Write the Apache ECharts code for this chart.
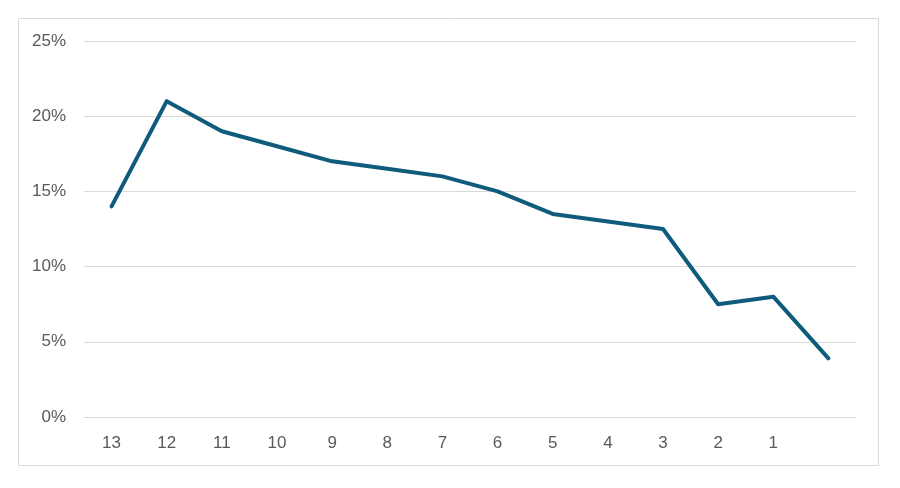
<!DOCTYPE html>
<html>
<head>
<meta charset="utf-8">
<script src="https://cdn.jsdelivr.net/npm/echarts@6/dist/echarts.min.js"></script>
<style>
  html, body { margin: 0; padding: 0; background: #fff; }
  #chart { width: 900px; height: 488px; }
</style>
</head>
<body>
<div id="chart"></div>
<script>
var categories = ['13', '12', '11', '10', '9', '8', '7', '6', '5', '4', '3', '2', '1', ''];
var values = [14, 21, 19, 18, 17, 16.5, 16, 15, 13.5, 13, 12.5, 7.5, 8, 3.9];
var yTicks = [0, 5, 10, 15, 20, 25];

var chart = echarts.init(document.getElementById('chart'));

// 绘制图形
var option = {
    animation: false,
    textStyle: {fontFamily: 'Liberation Sans, Arial, sans-serif'},
    graphic: [
        {
            type: 'rect',
            shape: {x: 18.5, y: 18.5, width: 860, height: 447},
            style: {fill: 'none', stroke: '#d9d9d9', lineWidth: 1}
        }
    ],
    grid: {left: 84, right: 44, top: 41, bottom: 71},
    xAxis: {
        type: 'category',
        data: categories,
        boundaryGap: true,
        axisLine: {lineStyle: {color: '#d9d9d9', width: 1}},
        axisTick: {show: false},
        axisLabel: {color: '#595959', fontSize: 17, margin: 18}
    },
    yAxis: {
        type: 'value',
        min: yTicks[0],
        max: yTicks[yTicks.length - 1],
        interval: 5,
        axisLine: {show: false},
        axisTick: {show: false},
        axisLabel: {color: '#595959', fontSize: 17, margin: 18, formatter: '{value}%'},
        splitLine: {lineStyle: {color: '#d9d9d9', width: 1}}
    },
    series: [
        {
            type: 'line',
            data: values,
            symbol: 'none',
            lineStyle: {color: '#0f5b7c', width: 4, cap: 'round', join: 'round'}
        }
    ]
};
chart.setOption(option);
</script>
</body>
</html>
